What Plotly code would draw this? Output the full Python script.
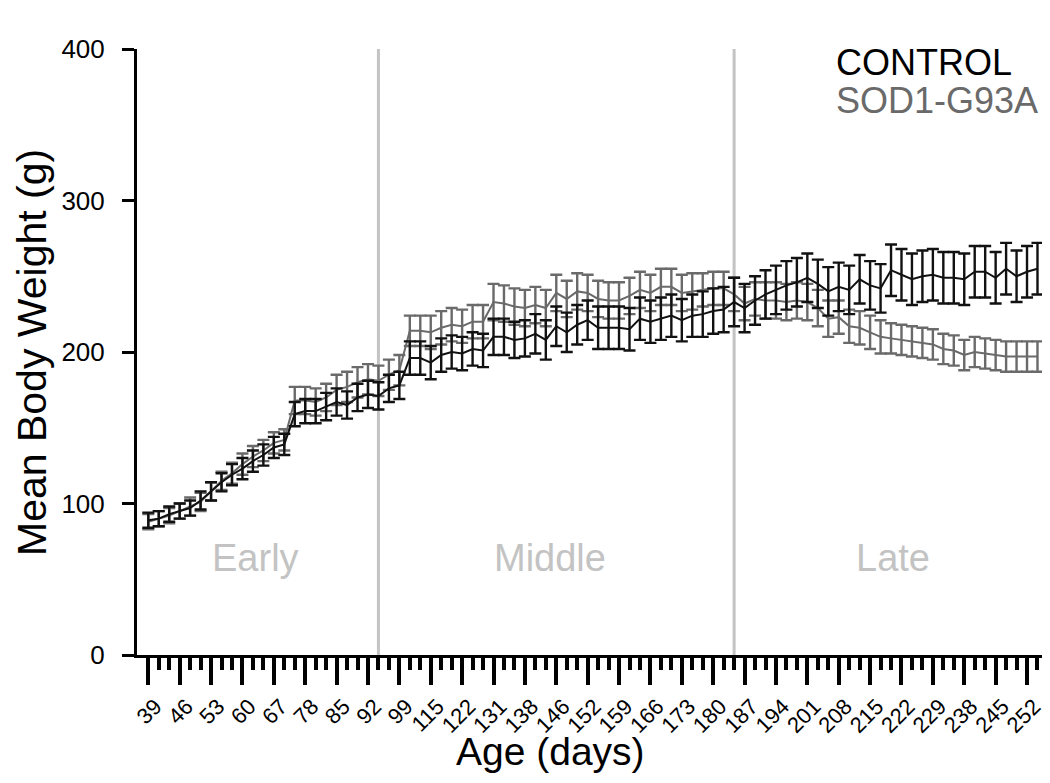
import plotly.graph_objects as go

# ---- data (one value per weighing session, index 0..85) ----
tick_days = [39, 46, 53, 60, 67, 78, 85, 92, 99, 115, 122, 131, 138, 146, 152,
             159, 166, 173, 180, 187, 194, 201, 208, 215, 222, 229, 238, 245, 252]

control_mean = [89, 90, 93, 95, 97, 102, 108, 114, 119, 123, 128, 132, 137, 139,
                159, 161, 161, 164, 167, 165, 170, 172, 171, 176, 178,
                196, 196, 193, 198, 200, 199, 202, 201, 210, 210, 208, 209, 212, 208,
                217, 213, 218, 221, 216, 216, 216, 215, 222, 220, 222, 224, 221, 224,
                225, 227, 228, 233, 229, 234, 238, 241, 244, 246, 249, 245, 240, 243,
                241, 248, 244, 242, 254, 251, 248, 250, 251, 249, 249, 248, 253, 253,
                249, 255, 250, 253, 255]
control_err = [5, 5, 5, 5, 5, 6, 6, 6, 7, 7, 7, 7, 7, 7,
               8, 8, 8, 9, 9, 9, 9, 9, 9, 9, 9,
               11, 11, 11, 11, 11, 11, 11, 11, 12, 12, 12, 12, 13, 13,
               13, 13, 13, 13, 14, 14, 14, 14, 14, 14, 14, 14, 14, 14,
               15, 15, 15, 16, 16, 16, 16, 16, 16, 16, 16, 16, 16, 16,
               16, 16, 16, 16, 17, 17, 17, 17, 17, 17, 17, 17, 17, 17,
               17, 17, 17, 17, 17]

sod_mean = [88, 90, 92, 95, 98, 101, 108, 115, 120, 126, 131, 135, 140, 142,
            168, 168, 167, 170, 175, 177, 180, 182, 181, 185, 188,
            214, 214, 213, 216, 218, 217, 220, 220, 233, 232, 230, 229, 231, 229,
            239, 235, 240, 239, 235, 234, 234, 237, 241, 239, 243, 243, 239, 240,
            241, 242, 242, 238, 232, 235, 234, 234, 233, 234, 233, 229, 222, 223,
            217, 216, 213, 210, 209, 208, 207, 206, 205, 202, 201, 198, 200, 199,
            198, 197, 197, 197, 197]
sod_err = [5, 5, 5, 5, 6, 6, 6, 6, 7, 7, 7, 7, 7, 7,
           9, 9, 9, 9, 10, 10, 10, 10, 10, 10, 10,
           10, 10, 11, 11, 11, 11, 11, 11, 12, 12, 12, 12, 12, 12,
           12, 12, 12, 12, 12, 12, 12, 12, 12, 12, 12, 12, 12, 12,
           11, 11, 11, 11, 11, 11, 12, 12, 12, 12, 12, 12, 12, 11,
           11, 11, 11, 11, 10, 10, 10, 10, 10, 10, 10, 10, 10, 10,
           10, 10, 10, 10, 10]

phase_bounds = [22, 56]          # session index of phase dividers
phase_labels = ["Early", "Middle", "Late"]
phase_label_x = [10.2, 38.4, 71.2]
phase_label_y = 64

series_names = ["CONTROL", "SOD1-G93A"]
BLACK = "#111111"
GRAY = "#6a6a6a"
LIGHT = "#c3c3c3"
FONT = "Liberation Sans, Arial, sans-serif"

n = len(control_mean)
xs = list(range(n))
major_vals = [i * 3 for i in range(len(tick_days))]
minor_vals = [i for i in xs if i % 3 != 0]

fig = go.Figure()
for name, mean, err, col in [(series_names[1], sod_mean, sod_err, GRAY),
                             (series_names[0], control_mean, control_err, BLACK)]:
    fig.add_trace(go.Scatter(
        x=xs, y=mean, mode="lines", name=name,
        line=dict(color=col, width=2),
        error_y=dict(type="data", array=err, visible=True, color=col,
                     thickness=2.4, width=6),
        showlegend=False))

for b in phase_bounds:
    fig.add_shape(type="line", x0=b, x1=b, y0=0, y1=400, xref="x", yref="y",
                  line=dict(color=LIGHT, width=3), layer="below")

for lab, lx in zip(phase_labels, phase_label_x):
    fig.add_annotation(x=lx, y=phase_label_y, xref="x", yref="y", text=lab,
                       showarrow=False, font=dict(family=FONT, size=38, color=LIGHT))

fig.add_annotation(x=0.766, y=0.9785, xref="paper", yref="paper", text=series_names[0],
                   showarrow=False, xanchor="left", yanchor="middle",
                   font=dict(family=FONT, size=36, color="black"))
fig.add_annotation(x=0.766, y=0.9158, xref="paper", yref="paper", text=series_names[1],
                   showarrow=False, xanchor="left", yanchor="middle",
                   font=dict(family=FONT, size=36, color=GRAY))

fig.add_annotation(x=0.4543, y=-0.16, xref="paper", yref="paper", text="Age (days)",
                   showarrow=False, xanchor="center", yanchor="middle",
                   font=dict(family=FONT, size=39, color="black"))
fig.add_annotation(x=-0.1154, y=0.5, xref="paper", yref="paper",
                   text="Mean Body Weight (g)", textangle=-90,
                   showarrow=False, xanchor="center", yanchor="middle",
                   font=dict(family=FONT, size=41, color="black"))

fig.update_layout(
    width=1042, height=775,
    margin=dict(l=129, r=3, t=41, b=128),
    paper_bgcolor="white", plot_bgcolor="white",
    font=dict(family=FONT, color="black"),
    xaxis=dict(range=[-1.08, 85.91], showgrid=False, zeroline=False,
               showline=True, linecolor="black", linewidth=3,
               tickmode="array", tickvals=major_vals,
               ticktext=[str(d) for d in tick_days],
               ticks="outside", ticklen=27, tickwidth=3.5, tickcolor="black",
               tickangle=-45, tickfont=dict(family=FONT, size=22),
               ticklabelshift=7,
               minor=dict(tickmode="array", tickvals=minor_vals, ticks="outside",
                          ticklen=12, tickwidth=3.5, tickcolor="black")),
    yaxis=dict(range=[0, 400], showgrid=False, zeroline=False,
               showline=True, linecolor="black", linewidth=3,
               tickmode="array", tickvals=[0, 100, 200, 300, 400],
               ticks="outside", ticklen=12, tickwidth=3, tickcolor="black",
               ticklabelstandoff=12,
               tickfont=dict(family=FONT, size=26)),
)

fig.write_html("out.html")
